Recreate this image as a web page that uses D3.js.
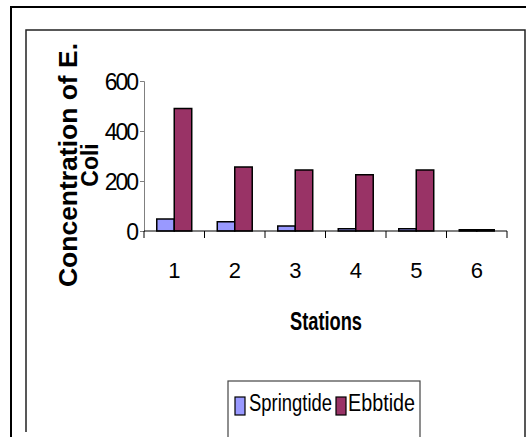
<!DOCTYPE html>
<html>
<head>
<meta charset="utf-8">
<script src="https://cdn.jsdelivr.net/npm/d3@7"></script>
<style>
  body { margin: 0; background: #fff; }
  svg { display: block; font-family: "Liberation Sans", Arial, sans-serif; }
</style>
</head>
<body>
<div id="chart"></div>
<script>
"use strict";

// chart data
var stations = ["1", "2", "3", "4", "5", "6"];
var seriesNames = ["Springtide", "Ebbtide"];
var springtide = [48, 37, 20, 9, 9, 5];
var ebbtide = [490, 256, 244, 225, 244, 5];
var yTicks = [0, 200, 400, 600];
var colours = ["#9999FF", "#993366"];

var width = 526, height = 437;

var svg = d3.select("#chart")
    .append("svg")
    .attr("width", width)
    .attr("height", height);

svg.append("rect").attr("width", width).attr("height", height).attr("fill", "#fff");

// outer and plot-area frames
svg.append("rect")
    .attr("x", 11).attr("y", 7)
    .attr("width", 540).attr("height", 460)
    .attr("fill", "none").attr("stroke", "#000").attr("stroke-width", 2);

svg.append("path")
    .attr("d", "M26,432V30H525V440")
    .attr("fill", "none").attr("stroke", "#222").attr("stroke-width", 1.5);

var x0 = d3.scaleBand().domain(stations).range([144, 507]);
var x1 = d3.scaleBand().domain(seriesNames).range([0, x0.bandwidth()]).paddingOuter(0.73);
var y = d3.scaleLinear().domain([0, 600]).range([231, 81]);

// y axis
var yAxis = svg.append("g")
    .attr("transform", "translate(144,0)")
    .call(d3.axisLeft(y).tickValues(yTicks).tickSize(4).tickPadding(3));
yAxis.select(".domain").attr("stroke", "#808080");
yAxis.selectAll(".tick line").attr("stroke", "#808080");
yAxis.selectAll(".tick text")
    .attr("fill", "#000")
    .style("font-size", "23px")
    .style("letter-spacing", "-2px")
    .attr("dy", "0.36em");

// bars
var groups = svg.append("g").selectAll("g")
    .data(stations)
    .join("g")
    .attr("transform", function (d) { return "translate(" + x0(d) + ",0)"; });

groups.selectAll("rect")
    .data(function (d, i) {
        return [
            { name: seriesNames[0], value: springtide[i], colour: colours[0] },
            { name: seriesNames[1], value: ebbtide[i], colour: colours[1] }
        ];
    })
    .join("rect")
    .attr("x", function (d) { return x1(d.name); })
    .attr("y", function (d) { return y(d.value); })
    .attr("width", x1.bandwidth())
    .attr("height", function (d) { return y(0) - y(d.value); })
    .attr("fill", function (d) { return d.colour; })
    .attr("stroke", "#000")
    .attr("stroke-width", 1.5);

// x axis
var xAxis = svg.append("g")
    .attr("transform", "translate(0,231)");
xAxis.append("line")
    .attr("x1", 144).attr("x2", 507)
    .attr("stroke", "#000");
xAxis.selectAll(".tk")
    .data(stations.concat(["end"]))
    .join("line")
    .attr("class", "tk")
    .attr("x1", function (d, i) { return i < stations.length ? x0(d) : x0.range()[1]; })
    .attr("x2", function (d, i) { return i < stations.length ? x0(d) : x0.range()[1]; })
    .attr("y1", 0).attr("y2", 7)
    .attr("stroke", "#000");
xAxis.selectAll(".lbl")
    .data(stations)
    .join("text")
    .attr("class", "lbl")
    .attr("x", function (d) { return x0(d) + x0.bandwidth() / 2; })
    .attr("y", 47)
    .attr("text-anchor", "middle")
    .style("font-size", "22px")
    .text(function (d) { return d; });

// axis titles
svg.append("text")
    .attr("x", 326).attr("y", 330)
    .attr("text-anchor", "middle")
    .attr("textLength", 72).attr("lengthAdjust", "spacingAndGlyphs")
    .style("font-size", "25px").style("font-weight", "bold")
    .text("Stations");

var yTitle = svg.append("g").attr("transform", "translate(0,165) rotate(-90)");
yTitle.append("text")
    .attr("x", 0).attr("y", 77)
    .attr("text-anchor", "middle")
    .attr("textLength", 244).attr("lengthAdjust", "spacingAndGlyphs")
    .style("font-size", "25px").style("font-weight", "bold")
    .text("Concentration of E.");
yTitle.append("text")
    .attr("x", 0).attr("y", 98)
    .attr("text-anchor", "middle")
    .style("font-size", "23px").style("font-weight", "bold")
    .text("Coli");

// legend
var legend = svg.append("g");
legend.append("rect")
    .attr("x", 228).attr("y", 381)
    .attr("width", 192).attr("height", 70)
    .attr("fill", "#fff").attr("stroke", "#444").attr("stroke-width", 1.2);

var legendX = [235, 336];
var legendTextX = [249, 348];
var legendTextLen = [83, 67];
seriesNames.forEach(function (name, i) {
    legend.append("rect")
        .attr("x", legendX[i]).attr("y", 397)
        .attr("width", 10).attr("height", 18)
        .attr("fill", colours[i]).attr("stroke", "#000").attr("stroke-width", 1.2);
    legend.append("text")
        .attr("x", legendTextX[i]).attr("y", 411)
        .attr("textLength", legendTextLen[i]).attr("lengthAdjust", "spacingAndGlyphs")
        .style("font-size", "23px")
        .text(name);
});
</script>
</body>
</html>
